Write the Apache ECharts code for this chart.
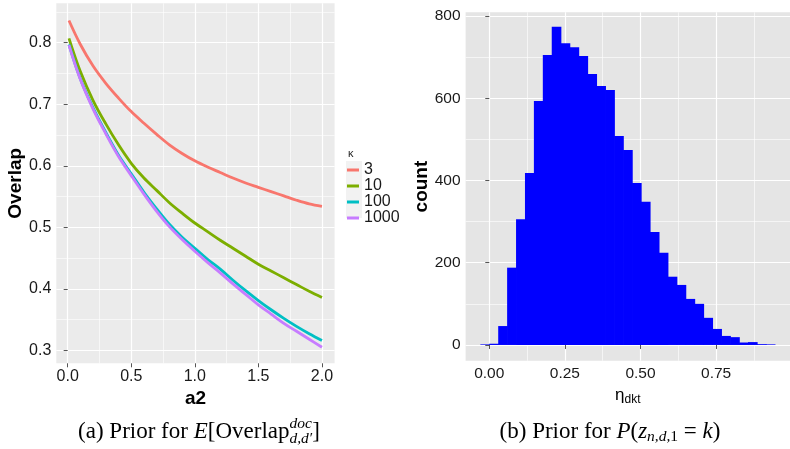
<!DOCTYPE html>
<html>
<head>
<meta charset="utf-8">
<script src="https://cdn.jsdelivr.net/npm/echarts@6/dist/echarts.min.js"></script>
<style>
html, body { margin: 0; padding: 0; background: #fff; }
#main { width: 790px; height: 449px; }
</style>
</head>
<body>
<div id="main"></div>
<script>
// (a) prior overlap against a2, one curve per kappa
var a2Values    = [0.01, 0.1, 0.2, 0.3, 0.4, 0.5, 0.6, 0.7, 0.8, 0.9, 1.0, 1.1, 1.2, 1.3, 1.4, 1.5, 1.6, 1.7, 1.8, 1.9, 2.0];
var overlapK3    = [0.836, 0.797, 0.762, 0.734, 0.710, 0.688, 0.669, 0.651, 0.634, 0.620, 0.608, 0.598, 0.589, 0.580, 0.572, 0.565, 0.558, 0.551, 0.544, 0.538, 0.534];
var overlapK10   = [0.807, 0.753, 0.706, 0.668, 0.634, 0.604, 0.580, 0.560, 0.540, 0.523, 0.507, 0.493, 0.479, 0.466, 0.453, 0.440, 0.429, 0.418, 0.407, 0.396, 0.386];
var overlapK100  = [0.797, 0.741, 0.694, 0.654, 0.617, 0.587, 0.557, 0.530, 0.505, 0.484, 0.466, 0.448, 0.432, 0.414, 0.397, 0.381, 0.366, 0.352, 0.339, 0.327, 0.316];
var overlapK1000 = [0.796, 0.740, 0.692, 0.652, 0.615, 0.584, 0.554, 0.526, 0.501, 0.480, 0.461, 0.443, 0.426, 0.408, 0.391, 0.374, 0.359, 0.344, 0.331, 0.318, 0.305];
var kappaNames  = ['3', '10', '100', '1000'];
var kappaColors = ['#F8766D', '#7CAE00', '#00BFC4', '#C77CFF'];

// (b) histogram of eta_dkt
var binWidth  = 0.0295;
var binStarts = [-0.0295, 0, 0.0295, 0.059, 0.0885, 0.118, 0.1475, 0.177, 0.2065, 0.236, 0.2655, 0.295, 0.3245, 0.354, 0.3835, 0.413, 0.4425,
                 0.472, 0.5015, 0.531, 0.5605, 0.59, 0.6195, 0.649, 0.6785, 0.708, 0.7375, 0.767, 0.7965, 0.826, 0.8555, 0.885, 0.9145];
var binCounts = [0, 3, 46, 188, 306, 418, 593, 705, 774, 734, 724, 703, 659, 630, 620, 508, 474,
                 394, 348, 275, 224, 166, 146, 112, 100, 66, 39, 22, 19, 6, 7, 2, 0];

// tick labels
var leftXTicks  = [0, 0.5, 1, 1.5, 2];
var leftXMinor  = [0.25, 0.75, 1.25, 1.75];
var leftYTicks  = [0.3, 0.4, 0.5, 0.6, 0.7, 0.8];
var leftYMinor  = [0.35, 0.45, 0.55, 0.65, 0.75, 0.85];
var rightXTicks = [0, 0.25, 0.5, 0.75];
var rightXMinor = [0.125, 0.375, 0.625, 0.875];
var rightYTicks = [0, 200, 400, 600, 800];
var rightYMinor = [100, 300, 500, 700];

var sans = '"Liberation Sans", Arial, sans-serif';
var serif = '"Liberation Serif", "Times New Roman", serif';

function majorAxis(grid, min, max, ticks, fmt, size) {
    return {
        type: 'value', gridIndex: grid, min: min, max: max,
        axisLine: { show: false },
        axisTick: { show: true, length: 4, customValues: ticks, lineStyle: { color: '#555', width: 1 } },
        axisLabel: { customValues: ticks, formatter: fmt, color: '#1a1a1a', fontSize: size, fontFamily: sans, margin: 5 },
        splitLine: { show: true, lineStyle: { color: '#fff', width: 1.2 } }
    };
}
function minorAxis(grid, min, max, ticks) {
    return {
        type: 'value', gridIndex: grid, min: min, max: max,
        axisLine: { show: false },
        axisTick: { show: false, customValues: ticks },
        axisLabel: { show: false, customValues: ticks },
        splitLine: { show: true, lineStyle: { color: '#fff', width: 0.6 } }
    };
}

var xAxes = [
    majorAxis(0, -0.0895, 2.0995, leftXTicks, function (v) { return v.toFixed(1); }, 16),
    minorAxis(0, -0.0895, 2.0995, leftXMinor),
    majorAxis(1, -0.0783, 0.9943, rightXTicks, function (v) { return v.toFixed(2); }, 15.5),
    minorAxis(1, -0.0783, 0.9943, rightXMinor)
];
var yAxes = [
    majorAxis(0, 0.279, 0.864, leftYTicks, function (v) { return v.toFixed(1); }, 16),
    minorAxis(0, 0.279, 0.864, leftYMinor),
    majorAxis(1, -38.5, 809, rightYTicks, function (v) { return String(v); }, 15.5),
    minorAxis(1, -38.5, 809, rightYMinor)
];
yAxes[1].position = 'left';
yAxes[3].position = 'left';

xAxes[0].name = 'a2';
xAxes[0].nameLocation = 'middle';
xAxes[0].nameGap = 18;
xAxes[0].nameTextStyle = { fontSize: 19, fontWeight: 'bold', fontFamily: sans, color: '#000' };
yAxes[0].name = 'Overlap';
yAxes[0].nameLocation = 'middle';
yAxes[0].nameGap = 30;
yAxes[0].nameTextStyle = { fontSize: 19, fontWeight: 'bold', fontFamily: sans, color: '#000' };
xAxes[2].name = '{e|η}{s|dkt}';
xAxes[2].nameLocation = 'middle';
xAxes[2].nameGap = 16;
xAxes[2].nameTextStyle = { color: '#000', fontFamily: sans, rich: { e: { fontSize: 17, fontFamily: sans }, s: { fontSize: 12, fontFamily: sans, padding: [9, 0, 0, 0] } } };
yAxes[2].name = 'count';
yAxes[2].nameLocation = 'middle';
yAxes[2].nameGap = 31;
yAxes[2].nameTextStyle = { fontSize: 19, fontWeight: 'bold', fontFamily: sans, color: '#000' };

var lineData = [overlapK3, overlapK10, overlapK100, overlapK1000];
var series = lineData.map(function (vals, k) {
    return {
        type: 'line', name: kappaNames[k], xAxisIndex: 0, yAxisIndex: 0,
        data: a2Values.map(function (a, i) { return [a, vals[i]]; }),
        symbol: 'none', smooth: 0.35,
        lineStyle: { width: 2.8, color: kappaColors[k] },
        itemStyle: { color: kappaColors[k] },
        z: 3
    };
});
series.push({
    type: 'custom', xAxisIndex: 2, yAxisIndex: 2,
    data: binStarts.map(function (s, i) { return [s, s + binWidth, binCounts[i]]; }),
    encode: { x: [0, 1], y: 2 },
    renderItem: function (params, api) {
        var top = api.coord([api.value(0), api.value(2)]);
        var base = api.coord([api.value(1), 0]);
        var h = Math.max(base[1] - top[1], 0.6);
        // slight overlap so neighbouring bars show no seam
        return { type: 'rect', shape: { x: top[0], y: base[1] - h, width: base[0] - top[0] + 0.7, height: h }, style: { fill: '#0000FF' } };
    },
    z: 3
});

// captions under the panels, laid out piece by piece
var measure = document.createElement('canvas').getContext('2d');
function textWidth(t, size, italic) {
    measure.font = (italic ? 'italic ' : '') + size + 'px ' + serif;
    return measure.measureText(t).width;
}
function caption(parts, cx, cy) {
    var capSize = 23, subSize = 15.5;
    var placed = [], x = 0, stackW = null;
    parts.forEach(function (p) {
        var size = p.small ? subSize : capSize;
        var w = textWidth(p.t, size, p.it);
        placed.push({ p: p, x: x, size: size });
        if (p.stack) { stackW = w; }
        else { x += stackW !== null ? Math.max(w, stackW) : w; stackW = null; }
    });
    var left = cx - x / 2;
    return placed.map(function (q) {
        return {
            type: 'text', x: left + q.x, y: cy + (q.p.dy || 0),
            style: { text: q.p.t, fontSize: q.size, fontFamily: serif, fontStyle: q.p.it ? 'italic' : 'normal', fill: '#000', verticalAlign: 'middle', align: 'left' }
        };
    });
}
var captionA = caption([
    { t: '(a) Prior for ' }, { t: 'E', it: true }, { t: '[Overlap' },
    { t: 'doc', it: true, small: true, dy: -8, stack: true }, { t: 'd,d′', it: true, small: true, dy: 7 },
    { t: ']' }
], 199, 432);
var captionB = caption([
    { t: '(b) Prior for ' }, { t: 'P', it: true }, { t: '(' }, { t: 'z', it: true },
    { t: 'n,d,', it: true, small: true, dy: 5 }, { t: '1', small: true, dy: 5 },
    { t: ' = ' }, { t: 'k', it: true }, { t: ')' }
], 610, 432);

var graphics = [
    { type: 'rect', shape: { x: 346, y: 161, width: 16, height: 57 }, style: { fill: '#F2F2F2' }, z: 1 },
    { type: 'text', x: 348, y: 154, style: { text: 'κ', fontSize: 11, fontFamily: sans, fill: '#222', verticalAlign: 'middle' } }
].concat(captionA, captionB);

var dom = document.getElementById('main');
var myChart = echarts.init(dom, null, { renderer: 'canvas' });
var option = {
    animation: false,
    backgroundColor: '#fff',
    grid: [
        { left: 56.3, top: 3.3, width: 278.3, height: 360, show: true, backgroundColor: '#EBEBEB', borderWidth: 0 },
        { left: 465.6, top: 12.3, width: 333.5, height: 348.5, show: true, backgroundColor: '#E5E5E5', borderWidth: 0 }
    ],
    xAxis: xAxes,
    yAxis: yAxes,
    legend: {
        data: kappaNames, orient: 'vertical', left: 347, top: 162, padding: 0,
        itemWidth: 12, itemHeight: 3, itemGap: 0, icon: 'rect', selectedMode: false,
        textStyle: { fontSize: 16, lineHeight: 14, color: '#1a1a1a', fontFamily: sans }
    },
    graphic: graphics,
    series: series
};
myChart.setOption(option, true);
</script>
</body>
</html>
